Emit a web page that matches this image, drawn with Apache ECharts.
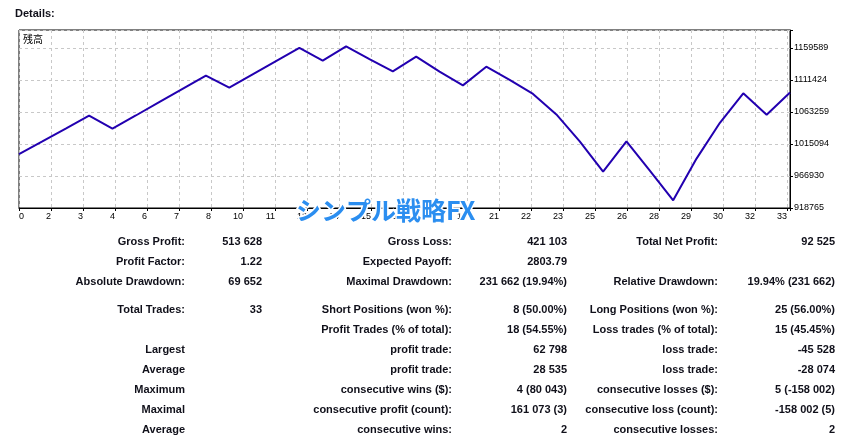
<!DOCTYPE html>
<html>
<head>
<meta charset="utf-8">
<script src="https://cdn.jsdelivr.net/npm/echarts@6/dist/echarts.min.js"></script>
<style>
html,body{margin:0;padding:0;background:#fff;}
#main{width:848px;height:440px;}
</style>
</head>
<body>
<div id="main"></div>
<script>
// ---- data ----
const trades = [0,1,2,3,4,5,6,7,8,9,10,11,12,13,14,15,16,17,18,19,20,21,22,23,24,25,26,27,28,29,30,31,32,33];
const balance = [1000000,1019000,1038300,1057690,1038123,1058000,1078000,1098100,1118166,1100000,
  1120000,1139800,1159600,1140474,1162010,1143000,1124368,1146494,1124000,1103296,
  1131443,1111569,1090469,1059569,1018969,973441,1019008,975000,930348,993146,
  1047000,1091421,1059196,1092525];
const xTickLabels = ['0','2','3','4','6','7','8','10','11','12','14','15','17','18','19','21','22','23','25','26','28','29','30','32','33'];
const yTickLabels = ['918765','966930','1015094','1063259','1111424','1159589'];
const seriesName = '残高';
const headerText = 'Details:';
const watermark = 'シンプル戦略FX';

const col1Labels = ['Gross Profit:','Profit Factor:','Absolute Drawdown:','Total Trades:','','Largest','Average','Maximum','Maximal','Average'];
const col1Values = ['513 628','1.22','69 652','33','','','','','',''];
const col2Labels = ['Gross Loss:','Expected Payoff:','Maximal Drawdown:','Short Positions (won %):','Profit Trades (% of total):','profit trade:','profit trade:','consecutive wins ($):','consecutive profit (count):','consecutive wins:'];
const col2Values = ['421 103','2803.79','231 662 (19.94%)','8 (50.00%)','18 (54.55%)','62 798','28 535','4 (80 043)','161 073 (3)','2'];
const col3Labels = ['Total Net Profit:','','Relative Drawdown:','Long Positions (won %):','Loss trades (% of total):','loss trade:','loss trade:','consecutive losses ($):','consecutive loss (count):','consecutive losses:'];
const col3Values = ['92 525','','19.94% (231 662)','25 (56.00%)','15 (45.45%)','-45 528','-28 074','5 (-158 002)','-158 002 (5)','2'];

// ---- layout ----
const gridLeft = 19, gridTop = 30, gridW = 771, gridH = 178;
const yBase = Number(yTickLabels[0]);
const yStep = (Number(yTickLabels[yTickLabels.length-1]) - yBase) / (yTickLabels.length - 1);
const yPxStep = 32;
const yMax = gridH / yPxStep * yStep;
const xMax = trades[trades.length-1];
const xStep = xMax * 32 / gridW;

const lineData = trades.map((t, i) => [t, balance[i] - yBase]);

function pick(arr, v, step){
  const k = v / step, i = Math.round(k);
  return (Math.abs(k - i) < 0.01 && i >= 0 && i < arr.length) ? arr[i] : '';
}

const rowY = [241.5, 261.5, 281.5, 310, 330, 350, 370, 390, 410, 430];
const cols = [
  {x:185, arr:col1Labels},{x:262, arr:col1Values},
  {x:452, arr:col2Labels},{x:567, arr:col2Values},
  {x:718, arr:col3Labels},{x:835, arr:col3Values}
];
const tableFont = 'bold 11px "Liberation Sans", Arial, sans-serif';
const graphics = [];
cols.forEach(c => {
  c.arr.forEach((s, r) => {
    if (!s) return;
    graphics.push({type:'text', x:c.x, y:rowY[r], silent:true,
      style:{text:s, font:tableFont, fill:'#10101a', textAlign:'right', textVerticalAlign:'middle'}});
  });
});
graphics.push({type:'text', x:15, y:13.5, silent:true,
  style:{text:headerText, font:tableFont, fill:'#10101a', textAlign:'left', textVerticalAlign:'middle'}});
graphics.push({type:'text', x:23, y:39, silent:true,
  style:{text:seriesName, font:'10px "Noto Sans CJK JP", sans-serif', fill:'#000', textAlign:'left', textVerticalAlign:'middle'}});
graphics.push({type:'text', x:296, y:210, z:100, silent:true,
  style:{text:watermark, font:'bold 25px "Noto Sans CJK JP", sans-serif',
    fill:'#2b8ef0', stroke:'#ffffff', lineWidth:3, textAlign:'left', textVerticalAlign:'middle',
    shadowColor:'rgba(0,0,0,0.55)', shadowBlur:3, shadowOffsetX:1, shadowOffsetY:1}});

const chart = echarts.init(document.getElementById('main'), null, {renderer:'canvas'});
chart.setOption({
  animation:false,
  backgroundColor:'#ffffff',
  grid:{left:gridLeft, top:gridTop, width:gridW, height:gridH, show:true, borderColor:'#000', borderWidth:1, backgroundColor:'#fff'},
  xAxis:{
    type:'value', min:0, max:xMax, interval:xStep,
    axisLine:{show:true, onZero:false, lineStyle:{color:'#000', width:1}},
    axisTick:{show:true, inside:false, length:3, lineStyle:{color:'#000'}},
    axisLabel:{show:true, fontSize:9, color:'#000', margin:4, align:'right', alignMinLabel:'left',
      fontFamily:'"Liberation Sans", Arial, sans-serif',
      formatter:v => pick(xTickLabels, v, xStep)},
    splitLine:{show:true, lineStyle:{color:'#c8c8c8', type:[3,3], width:1}}
  },
  yAxis:{
    type:'value', position:'right', min:0, max:yMax, interval:yStep,
    axisLine:{show:true, onZero:false, lineStyle:{color:'#000', width:1}},
    axisTick:{show:true, inside:false, length:3, lineStyle:{color:'#000'}},
    axisLabel:{show:true, fontSize:9, color:'#000', margin:4, padding:[0,0,3,0],
      fontFamily:'"Liberation Sans", Arial, sans-serif',
      formatter:v => pick(yTickLabels, v, yStep)},
    splitLine:{show:true, lineStyle:{color:'#c8c8c8', type:[3,3], width:1}}
  },
  series:[{
    name:seriesName, type:'line', data:lineData, showSymbol:false, smooth:false,
    lineStyle:{color:'#2200b0', width:2}, silent:true
  }],
  graphic:graphics
});
</script>
</body>
</html>
